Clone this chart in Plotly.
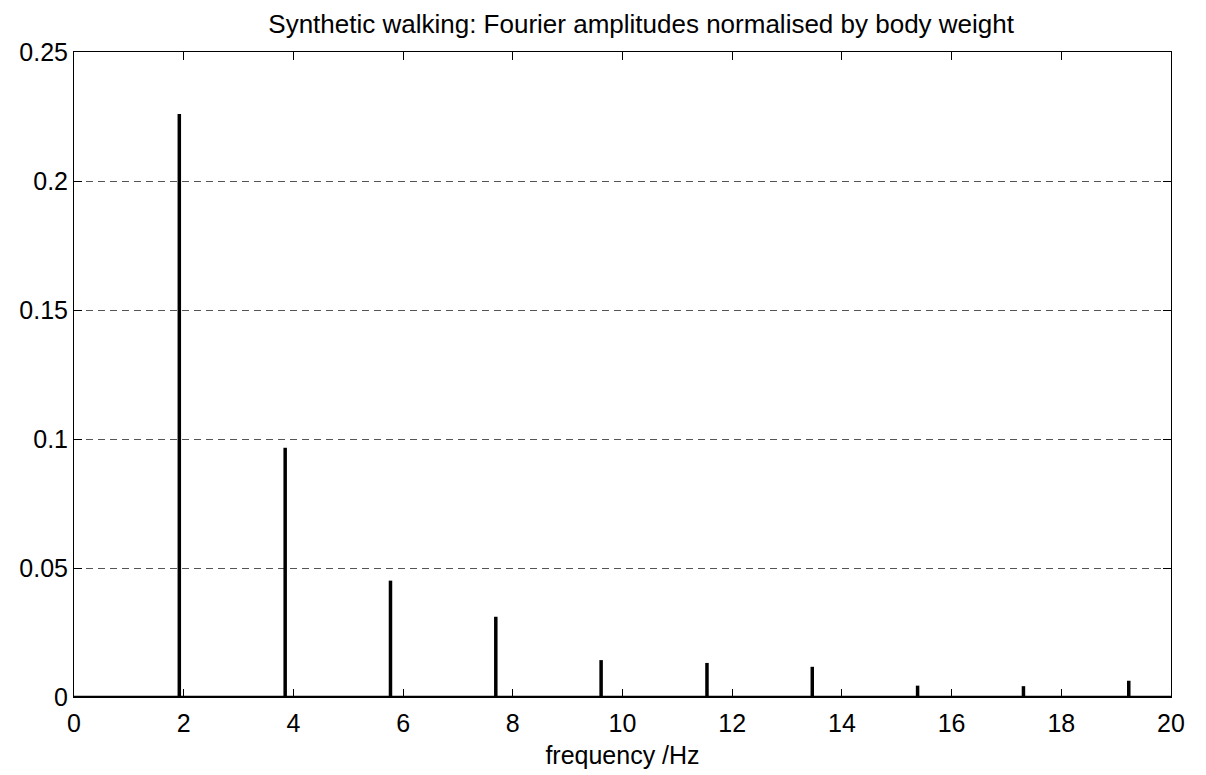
import plotly.graph_objects as go

# Harmonic peak frequencies (Hz) and normalised Fourier amplitudes
peak_freq = [1.92, 3.85, 5.77, 7.69, 9.61, 11.54, 13.46, 15.38, 17.31, 19.23]
peak_amp = [0.226, 0.0966, 0.0451, 0.0311, 0.0143, 0.0132, 0.0117, 0.0044, 0.0042, 0.0063]

x_range = [0, 20]
y_range = [0, 0.25]
x_ticks = [0, 2, 4, 6, 8, 10, 12, 14, 16, 18, 20]
y_ticks = [0, 0.05, 0.1, 0.15, 0.2, 0.25]
y_tick_labels = ["0", "0.05", "0.1", "0.15", "0.2", "0.25"]

stem_x, stem_y = [], []
for f, a in zip(peak_freq, peak_amp):
    stem_x += [f, f, None]
    stem_y += [0, a, None]

fig = go.Figure()
fig.add_trace(go.Scatter(x=[x_range[0], x_range[1]], y=[0, 0], mode="lines",
                         line=dict(color="black", width=2.5), hoverinfo="skip"))
fig.add_trace(go.Scatter(x=stem_x, y=stem_y, mode="lines",
                         line=dict(color="black", width=3.5)))

font = "Liberation Sans, Arial, sans-serif"
fig.update_layout(
    width=1206, height=775,
    margin=dict(l=66, r=43, t=44, b=86),
    paper_bgcolor="white", plot_bgcolor="white",
    showlegend=False,
    font=dict(family=font, color="black", size=25),
    title=dict(text="Synthetic walking: Fourier amplitudes normalised by body weight",
               xref="container", x=0.525, xanchor="center",
               yref="container", y=1 - 16 / 775, yanchor="middle",
               font=dict(size=26, family=font, color="black")),
)
fig.update_xaxes(range=x_range, tickvals=x_ticks, ticks="inside", ticklen=8,
                 tickcolor="black", showline=True, linecolor="black", linewidth=1,
                 mirror="ticks", showgrid=False, zeroline=False, ticklabelstandoff=4,
                 title=dict(text="frequency /Hz", standoff=10, font=dict(size=25)),
                 tickfont=dict(size=25))
fig.update_yaxes(range=y_range, tickvals=y_ticks, ticktext=y_tick_labels,
                 ticks="inside", ticklen=8, tickcolor="black", showline=True,
                 linecolor="black", linewidth=1, mirror="ticks",
                 showgrid=True, gridcolor="#555555", gridwidth=1, griddash="7px,5px",
                 zeroline=False, tickfont=dict(size=25))

fig.write_html("out.html")
